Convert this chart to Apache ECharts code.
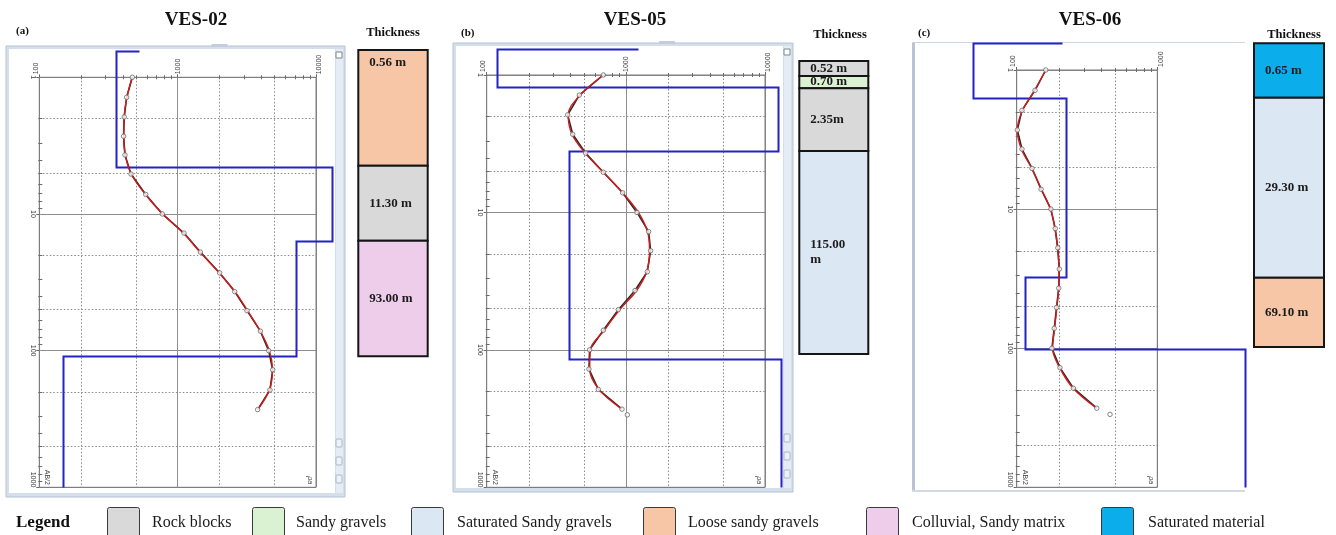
<!DOCTYPE html>
<html>
<head>
<meta charset="utf-8">
<script src="https://cdn.jsdelivr.net/npm/echarts@6/dist/echarts.min.js"></script>
<style>
  html, body { margin: 0; padding: 0; background: #ffffff; }
  #chart { width: 1336px; height: 535px; }
</style>
</head>
<body>
<div id="chart"></div>
<script>
// ---- Sounding data -------------------------------------------------------
// AB/2 half-spacings (m) of the Schlumberger readings
const ab2 = [1, 1.4, 1.95, 2.7, 3.7, 5.1, 7.2, 10, 13.8, 19, 27, 37, 51, 72, 100, 138, 194, 270];

// VES-02 apparent resistivity (ohm.m): field readings and computed response
const ves02Observed   = [470, 428, 411, 407, 416, 460, 588, 775, 1111, 1459, 2013, 2585, 3172, 3963, 4549, 4864, 4648, 3785];
const ves02Calculated = [470, 430, 410, 407, 418, 462, 585, 780, 1100, 1450, 2000, 2600, 3200, 3950, 4600, 4850, 4600, 3800];
// VES-02 layered model: resistivity per layer, depth of each layer base, head of the trace
const ves02LayerRho  = [356, 13100, 7160, 149];
const ves02LayerBase = [4.5, 15.8, 109];
const ves02ModelHead = [528, 0.638];

// VES-05
const ves05Observed   = [689, 463, 382, 415, 514, 689, 948, 1202, 1458, 1507, 1426, 1164, 883, 689, 549, 543, 634, 938];
const ves05Calculated = [689, 470, 385, 410, 510, 690, 950, 1230, 1430, 1480, 1410, 1195, 905, 700, 556, 550, 640, 938];
const ves05Outlier    = [[1025, 297]];
const ves05LayerRho  = [118, 12480, 391, 13030];
const ves05LayerBase = [1.23, 3.55, 117];
const ves05ModelHead = [1231, 0.647];

// VES-06
const ves06Observed   = [161, 135, 109, 101, 109, 128.5, 149, 175, 188, 196, 201, 199, 192, 185, 178, 203, 253, 371];
const ves06Calculated = [161, 134, 110, 101, 108, 128, 150, 174, 187, 195, 200, 199, 193, 186, 180, 202, 252, 370];
const ves06Outlier    = [[461, 299]];
const ves06LayerRho  = [49.2, 226, 115, 4200];
const ves06LayerBase = [1.60, 30.9, 100.5];
const ves06ModelHead = [211, 0.644];

// Thickness columns: edges on the AB/2 scale, material of each block, block labels
const ves02ColumnEdges = [0.632, 4.44, 15.7, 110];
const ves02ColumnMaterial = ['Loose sandy gravels', 'Rock blocks', 'Colluvial, Sandy matrix'];
const ves02ThicknessLabel = ['0.56 m', '11.30 m', '93.00 m'];

const ves05ColumnEdges = [0.791, 1.017, 1.249, 3.57, 107];
const ves05ColumnMaterial = ['Rock blocks', 'Sandy gravels', 'Rock blocks', 'Saturated Sandy gravels'];
const ves05ThicknessLabel = ['0.52 m', '0.70 m', '2.35m', '115.00\nm'];

const ves06ColumnEdges = [0.643, 1.58, 31.2, 97.9];
const ves06ColumnMaterial = ['Saturated material', 'Saturated Sandy gravels', 'Loose sandy gravels'];
const ves06ThicknessLabel = ['0.65 m', '29.30 m', '69.10 m'];

// Legend entries and fills
const materialNames  = ['Rock blocks', 'Sandy gravels', 'Saturated Sandy gravels', 'Loose sandy gravels', 'Colluvial, Sandy matrix', 'Saturated material'];
const materialColors = ['#D9D9D9', '#DAF2D2', '#DCE7F4', '#F6C6A7', '#EECDEB', '#0CADEB'];

// Axis tick steps inside each decade
const dottedSteps = [2, 5];
const minorSteps  = [2, 3, 4, 5, 6, 7, 8, 9];

// ---- Layout ---------------------------------------------------------------
const SERIF = '"Liberation Serif", "DejaVu Serif", serif';
const SANS = '"Liberation Sans", Arial, sans-serif';

const soundings = [
  { name: 'VES-02', tag: '(a)', obs: ves02Observed, calc: ves02Calculated, outlier: [],
    rho: ves02LayerRho, base: ves02LayerBase, head: ves02ModelHead,
    edges: ves02ColumnEdges, mat: ves02ColumnMaterial, labels: ves02ThicknessLabel, topLabel: [0] },
  { name: 'VES-05', tag: '(b)', obs: ves05Observed, calc: ves05Calculated, outlier: ves05Outlier,
    rho: ves05LayerRho, base: ves05LayerBase, head: ves05ModelHead,
    edges: ves05ColumnEdges, mat: ves05ColumnMaterial, labels: ves05ThicknessLabel, topLabel: [] },
  { name: 'VES-06', tag: '(c)', obs: ves06Observed, calc: ves06Calculated, outlier: ves06Outlier,
    rho: ves06LayerRho, base: ves06LayerBase, head: ves06ModelHead,
    edges: ves06ColumnEdges, mat: ves06ColumnMaterial, labels: ves06ThicknessLabel, topLabel: [] }
];

const layout = [
  { grid: { left: 39.3, top: 77.3, width: 276.7, height: 410 }, xMax: 10000, col: { left: 358.3, width: 69.4 },
    frame: { x: 6, y: 46, w: 339, h: 451, strip: 10, open: false },
    title: [196, 20], tag: [16, 31], thick: [393, 33] },
  { grid: { left: 486.7, top: 75, width: 278.3, height: 412.3 }, xMax: 10000, col: { left: 799.3, width: 69 },
    frame: { x: 453, y: 43, w: 340, h: 449, strip: 10, open: false },
    title: [635, 20], tag: [461, 33], thick: [840, 35] },
  { grid: { left: 1016.7, top: 70, width: 140.6, height: 417.3 }, xMax: 1000, col: { left: 1254, width: 70 },
    frame: { x: 912, y: 42, w: 333, h: 448, strip: 0, open: true },
    title: [1090, 20], tag: [918, 33], thick: [1294, 35] }
];

const legendBoxX  = [107, 252, 411, 643, 866, 1101];
const legendTextX = [152, 296, 457, 688, 912, 1148];

// ---- Helpers --------------------------------------------------------------
function pairs(xs, ys) { return xs.map((v, i) => [v, ys[i]]); }

function modelPath(head, rho, base) {
  const top = head[1];
  const pts = [[head[0], top], [rho[0], top]];
  for (let i = 0; i < rho.length; i++) {
    const b = i < base.length ? base[i] : 1000;
    pts.push([rho[i], b]);
    if (i + 1 < rho.length) pts.push([rho[i + 1], b]);
  }
  return pts;
}

function seg(x1, y1, x2, y2, style) {
  return { type: 'line', shape: { x1: x1, y1: y1, x2: x2, y2: y2 }, style: style, silent: true };
}

// dotted 2/5 grid lines plus short minor ticks on the top and left axes
function overlayRenderer(xMax) {
  return function (params, api) {
    const cs = params.coordSys;
    const x0 = cs.x, y0 = cs.y, x1 = cs.x + cs.width, y1 = cs.y + cs.height;
    const kids = [];
    const dot = { stroke: '#8a8a8a', lineWidth: 1, lineDash: [1.5, 2] };
    const tick = { stroke: '#6a6a6a', lineWidth: 1 };
    for (let d = 100; d < xMax; d *= 10) {
      dottedSteps.forEach(s => {
        const x = Math.round(api.coord([d * s, 1])[0]) + 0.5;
        kids.push(seg(x, y0, x, y1, dot));
      });
      minorSteps.forEach(s => {
        const x = Math.round(api.coord([d * s, 1])[0]) + 0.5;
        kids.push(seg(x, y0 - 2, x, y0 + 2, tick));
      });
    }
    for (let d = 1; d < 1000; d *= 10) {
      dottedSteps.forEach(s => {
        const y = Math.round(api.coord([100, d * s])[1]) + 0.5;
        kids.push(seg(x0, y, x1, y, dot));
      });
      minorSteps.forEach(s => {
        const y = Math.round(api.coord([100, d * s])[1]) + 0.5;
        kids.push(seg(x0 - 1, y, x0 + 3, y, tick));
      });
    }
    return { type: 'group', children: kids };
  };
}

// stepped layer-model trace; it runs past the plot box, so it is drawn unclipped
function modelRenderer(points) {
  return function (params, api) {
    const pts = points.map(p => {
      const c = api.coord(p);
      return [Math.round(c[0]) + 0.5, Math.round(c[1]) + 0.5];
    });
    return { type: 'polyline', shape: { points: pts },
      style: { stroke: '#2323C6', lineWidth: 2, fill: null } };
  };
}

function columnRenderer(s) {
  return function (params, api) {
    const i = params.dataIndex;
    const p0 = api.coord([0, api.value(1)]);
    const p1 = api.coord([1, api.value(2)]);
    const color = materialColors[materialNames.indexOf(s.mat[i])];
    const h = p1[1] - p0[1];
    const isTop = s.topLabel.indexOf(i) >= 0;
    return {
      type: 'group',
      children: [
        { type: 'rect', shape: { x: p0[0], y: p0[1], width: p1[0] - p0[0], height: h },
          style: { fill: color, stroke: '#151515', lineWidth: 2 } },
        { type: 'text', x: p0[0] + 11, y: isTop ? p0[1] + 13 : p0[1] + h / 2,
          style: { text: s.labels[i], fill: '#1b1b1b', font: 'bold 13px ' + SERIF,
                   textAlign: 'left', textVerticalAlign: 'middle', lineHeight: 15 } }
      ]
    };
  };
}

const plainNumber = v => String(v);

// ---- Build option ---------------------------------------------------------
const grids = [], xAxes = [], yAxes = [], series = [], graphics = [];

soundings.forEach((s, k) => {
  const L = layout[k];
  const gPlot = grids.length;
  grids.push(Object.assign({ show: true, borderColor: '#7a7a7a', borderWidth: 1, z: 1 }, L.grid));
  xAxes.push({
    gridIndex: gPlot, type: 'log', logBase: 10, min: 100, max: L.xMax, position: 'top',
    axisLine: { show: false },
    axisTick: { show: true, length: 3, lineStyle: { color: '#666' } },
    axisLabel: { rotate: -90, fontSize: 7, color: '#444', margin: 3, fontFamily: SANS, formatter: plainNumber,
                 verticalAlignMinLabel: 'bottom', verticalAlignMaxLabel: 'top' },
    splitLine: { show: true, lineStyle: { color: '#8e8e8e', width: 1 } }
  });
  yAxes.push({
    gridIndex: gPlot, type: 'log', logBase: 10, min: 1, max: 1000, inverse: true,
    axisLine: { show: false },
    axisTick: { show: true, length: 3, lineStyle: { color: '#666' } },
    axisLabel: { rotate: -90, fontSize: 7, color: '#444', margin: 3, fontFamily: SANS, formatter: plainNumber,
                 alignMaxLabel: 'right' },
    splitLine: { show: true, lineStyle: { color: '#8e8e8e', width: 1 } }
  });
  const ax = xAxes.length - 1;

  series.push({
    type: 'custom', xAxisIndex: ax, yAxisIndex: ax, silent: true, z: 1,
    renderItem: overlayRenderer(L.xMax), data: [[100, 1]]
  });
  series.push({
    type: 'custom', name: s.name + ' model', xAxisIndex: ax, yAxisIndex: ax, silent: true, clip: false, z: 3,
    renderItem: modelRenderer(modelPath(s.head, s.rho, s.base)), data: [[100, 1]]
  });
  series.push({
    type: 'line', name: s.name + ' observed', xAxisIndex: ax, yAxisIndex: ax, silent: true, z: 4,
    data: pairs(s.obs, ab2), showSymbol: false,
    lineStyle: { color: '#2a2a2a', width: 1.6 }
  });
  series.push({
    type: 'line', name: s.name + ' calculated', xAxisIndex: ax, yAxisIndex: ax, silent: true, z: 5,
    data: pairs(s.calc, ab2), showSymbol: false, smooth: 0.35,
    lineStyle: { color: '#D11A1A', width: 1.4 }
  });
  series.push({
    type: 'scatter', xAxisIndex: ax, yAxisIndex: ax, silent: true, z: 6,
    data: pairs(s.obs, ab2).concat(s.outlier), symbol: 'circle', symbolSize: 4.5,
    itemStyle: { color: '#ffffff', borderColor: '#666', borderWidth: 1 }
  });

  // thickness column sharing the AB/2 scale of the plot
  const gCol = grids.length;
  grids.push({ left: L.col.left, width: L.col.width, top: L.grid.top, height: L.grid.height, show: false });
  xAxes.push({ gridIndex: gCol, type: 'value', min: 0, max: 1, show: false });
  yAxes.push({ gridIndex: gCol, type: 'log', logBase: 10, min: 1, max: 1000, inverse: true, show: false });
  const cx = xAxes.length - 1;
  series.push({
    type: 'custom', xAxisIndex: cx, yAxisIndex: cx, silent: true, clip: false, z: 3,
    renderItem: columnRenderer(s),
    data: s.labels.map((_, i) => [0, s.edges[i], s.edges[i + 1], i])
  });

  // program window frame around the plot
  const f = L.frame;
  if (!f.open) {
    graphics.push({ type: 'rect', z: -10, shape: { x: f.x, y: f.y, width: f.w, height: f.h },
      style: { fill: '#D5DFEB', stroke: '#B5C3D4', lineWidth: 1 } });
    graphics.push({ type: 'rect', z: -9, shape: { x: f.x + 3, y: f.y + 3, width: f.w - f.strip - 3, height: f.h - 7 },
      style: { fill: '#ffffff' } });
    graphics.push({ type: 'rect', z: -9, shape: { x: f.x + f.w - f.strip + 1, y: f.y + 3, width: f.strip - 3, height: f.h - 7 },
      style: { fill: '#E6ECF4' } });
    graphics.push({ type: 'rect', z: -8, shape: { x: f.x + f.w - f.strip + 1, y: f.y + 6, width: 6, height: 6 },
      style: { fill: '#ffffff', stroke: '#7d8794', lineWidth: 1 } });
    [0, 18, 36].forEach(dy => graphics.push({ type: 'rect', z: -8,
      shape: { x: f.x + f.w - f.strip + 1, y: f.y + f.h - 58 + dy, width: 6, height: 8, r: 1 },
      style: { fill: '#EEF2F7', stroke: '#A9B4C2', lineWidth: 1 } }));
    graphics.push({ type: 'rect', z: -8, shape: { x: f.x + f.w / 2 + 36, y: f.y - 2, width: 16, height: 3 },
      style: { fill: '#C3CEDC' } });
  } else {
    graphics.push({ type: 'rect', z: -9, shape: { x: f.x, y: f.y, width: 3, height: f.h },
      style: { fill: '#B9C4D2' } });
    graphics.push({ type: 'rect', z: -9, shape: { x: f.x, y: f.y, width: f.w, height: 1 },
      style: { fill: '#CCD6E3' } });
    graphics.push({ type: 'rect', z: -9, shape: { x: f.x, y: f.y + f.h, width: f.w, height: 2 },
      style: { fill: '#D3DAE3' } });
  }

  // axis captions inside the plot corners
  const gx = L.grid.left, gy = L.grid.top, gw = L.grid.width, gh = L.grid.height;
  graphics.push({ type: 'text', x: gx + 8, y: gy + gh - 10, rotation: -Math.PI / 2,
    style: { text: 'AB/2', fill: '#444', font: '7px ' + SANS, textAlign: 'center', textVerticalAlign: 'middle' } });
  graphics.push({ type: 'text', x: gx + gw - 6, y: gy + gh - 7, rotation: -Math.PI / 2,
    style: { text: 'ρa', fill: '#444', font: 'italic 7px ' + SANS, textAlign: 'center', textVerticalAlign: 'middle' } });

  // headings
  graphics.push({ type: 'text', x: L.title[0], y: L.title[1],
    style: { text: s.name, fill: '#111', font: 'bold 19px ' + SERIF, textAlign: 'center', textVerticalAlign: 'middle' } });
  graphics.push({ type: 'text', x: L.tag[0], y: L.tag[1],
    style: { text: s.tag, fill: '#111', font: 'bold 11px ' + SERIF, textAlign: 'left', textVerticalAlign: 'middle' } });
  graphics.push({ type: 'text', x: L.thick[0], y: L.thick[1],
    style: { text: 'Thickness', fill: '#111', font: 'bold 12.5px ' + SERIF, textAlign: 'center', textVerticalAlign: 'middle' } });
});

// legend strip along the bottom
graphics.push({ type: 'text', x: 16, y: 523,
  style: { text: 'Legend', fill: '#111', font: 'bold 17px ' + SERIF, textAlign: 'left', textVerticalAlign: 'middle' } });
materialNames.forEach((n, i) => {
  graphics.push({ type: 'rect', shape: { x: legendBoxX[i] + 0.5, y: 507.5, width: 32, height: 34, r: 2 },
    style: { fill: materialColors[i], stroke: '#3a3a3a', lineWidth: 1 } });
  graphics.push({ type: 'text', x: legendTextX[i], y: 523,
    style: { text: n, fill: '#1a1a1a', font: '16px ' + SERIF, textAlign: 'left', textVerticalAlign: 'middle' } });
});

const chart = echarts.init(document.getElementById('chart'), null, { renderer: 'canvas' });
chart.setOption({
  animation: false,
  backgroundColor: '#ffffff',
  grid: grids,
  xAxis: xAxes,
  yAxis: yAxes,
  series: series,
  graphic: { elements: graphics }
});
</script>
</body>
</html>
